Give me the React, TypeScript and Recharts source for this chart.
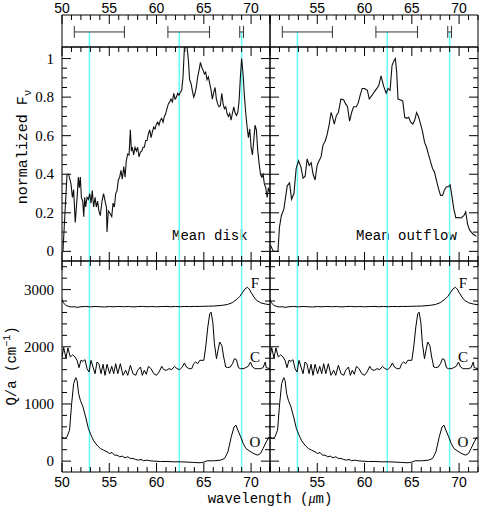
import React from 'react'
import { ComposedChart, Line, XAxis, YAxis, ReferenceLine, Scatter, ErrorBar } from 'recharts'

// ── axes ──────────────────────────────────────────────────────────────────────
const X_DOMAIN: [number, number] = [50, 72]
const X_TICKS = [50, 51, 52, 53, 54, 55, 56, 57, 58, 59, 60, 61, 62, 63, 64, 65, 66, 67, 68, 69, 70, 71, 72]
const X_MAJOR = [50, 55, 60, 65, 70]
const X_LABELS_RIGHT = [55, 60, 65, 70]

const FLUX_DOMAIN: [number, number] = [-0.05, 1.06]
const FLUX_TICKS = [0, 0.05, 0.1, 0.15, 0.2, 0.25, 0.3, 0.35, 0.4, 0.45, 0.5, 0.55, 0.6, 0.65, 0.7, 0.75, 0.8, 0.85, 0.9, 0.95, 1]
const FLUX_LABELS = [0, 0.2, 0.4, 0.6, 0.8, 1]

const Q_DOMAIN: [number, number] = [-190, 3500]
const Q_TICKS = [0, 200, 400, 600, 800, 1000, 1200, 1400, 1600, 1800, 2000, 2200, 2400, 2600, 2800, 3000, 3200, 3400]
const Q_LABELS = [0, 1000, 2000, 3000]

// ── marks ─────────────────────────────────────────────────────────────────────
const cyanLines = [52.9, 62.4, 69.0]
const resolution = [
  { lo: 51.3, hi: 56.6 },
  { lo: 61.2, hi: 65.6 },
  { lo: 68.8, hi: 69.2 },
]

// [wavelength, normalized F_nu]
const meanDisk: [number, number][] = [
  [50.1, 0.0], [50.53, 0.4], [50.7, 0.4], [50.95, 0.35], [51.1, 0.28], [51.23, 0.32], [51.4, 0.15],
  [51.6, 0.28], [51.73, 0.385], [51.83, 0.33], [51.94, 0.385], [52.05, 0.28], [52.19, 0.26], [52.3, 0.18],
  [52.4, 0.28], [52.5, 0.23], [52.65, 0.28], [52.79, 0.27], [52.93, 0.3], [53.07, 0.25], [53.2, 0.315],
  [53.35, 0.23], [53.5, 0.28], [53.63, 0.23], [53.77, 0.26], [53.9, 0.21], [54.05, 0.185], [54.23, 0.26],
  [54.4, 0.3], [54.6, 0.25], [54.7, 0.23], [54.76, 0.1], [54.9, 0.21], [55.04, 0.2], [55.26, 0.18],
  [55.4, 0.25], [55.54, 0.23], [55.68, 0.3], [55.82, 0.315], [55.96, 0.37], [56.1, 0.385], [56.24, 0.42],
  [56.38, 0.375], [56.53, 0.44], [56.67, 0.385], [56.8, 0.47], [56.95, 0.505], [57.09, 0.5], [57.23, 0.63],
  [57.34, 0.52], [57.44, 0.54], [57.58, 0.5], [57.72, 0.54], [57.87, 0.52], [58.0, 0.54], [58.15, 0.49],
  [58.29, 0.515], [58.43, 0.52], [58.57, 0.54], [58.71, 0.54], [58.85, 0.575], [59.0, 0.575], [59.14, 0.61],
  [59.28, 0.63], [59.42, 0.59], [59.56, 0.62], [59.7, 0.645], [59.84, 0.635], [59.98, 0.66], [60.12, 0.67],
  [60.26, 0.655], [60.4, 0.68], [60.55, 0.69], [60.69, 0.67], [60.83, 0.7], [60.97, 0.715], [61.1, 0.74],
  [61.25, 0.765], [61.4, 0.775], [61.53, 0.79], [61.68, 0.775], [61.82, 0.82], [61.96, 0.79], [62.1, 0.8],
  [62.24, 0.82], [62.38, 0.81], [62.52, 0.825], [62.66, 0.835], [62.8, 0.905], [62.95, 1.06], [63.09, 1.15],
  [63.23, 1.06], [63.37, 0.99], [63.5, 0.89], [63.65, 0.87], [63.8, 0.83], [63.93, 0.8], [64.07, 0.82],
  [64.2, 0.85], [64.35, 0.905], [64.5, 0.94], [64.64, 0.98], [64.78, 0.955], [64.92, 0.94], [65.06, 0.92],
  [65.2, 0.93], [65.34, 0.89], [65.48, 0.905], [65.63, 0.87], [65.77, 0.835], [65.9, 0.79], [66.05, 0.825],
  [66.19, 0.85], [66.33, 0.79], [66.47, 0.765], [66.6, 0.75], [66.75, 0.755], [66.9, 0.82], [67.04, 0.765],
  [67.18, 0.74], [67.32, 0.75], [67.46, 0.715], [67.6, 0.7], [67.74, 0.715], [67.88, 0.68], [68.02, 0.715],
  [68.17, 0.75], [68.3, 0.72], [68.45, 0.705], [68.59, 0.72], [68.73, 0.78], [68.87, 0.905], [69.0, 1.0],
  [69.15, 0.92], [69.3, 0.8], [69.44, 0.715], [69.58, 0.645], [69.72, 0.59], [69.86, 0.635], [70.0, 0.54],
  [70.14, 0.5], [70.28, 0.575], [70.42, 0.655], [70.56, 0.63], [70.7, 0.525], [70.85, 0.455], [71.0, 0.4],
  [71.13, 0.385], [71.27, 0.4], [71.4, 0.35], [71.55, 0.33], [71.7, 0.28], [71.83, 0.33], [72.0, 0.3],
]

const meanOutflow: [number, number][] = [
  [50.07, 0.03], [50.35, 0.0], [50.84, 0.0], [51.0, 0.125], [51.2, 0.185], [51.47, 0.22], [51.82, 0.34],
  [52.07, 0.355], [52.28, 0.27], [52.53, 0.3], [52.77, 0.43], [53.02, 0.47], [53.26, 0.44], [53.5, 0.38],
  [53.72, 0.39], [53.93, 0.48], [54.14, 0.445], [54.35, 0.46], [54.56, 0.4], [54.77, 0.37], [54.98, 0.445],
  [55.19, 0.47], [55.4, 0.49], [55.6, 0.55], [55.86, 0.575], [56.04, 0.605], [56.25, 0.655], [56.46, 0.72],
  [56.6, 0.7], [56.8, 0.66], [57.02, 0.705], [57.23, 0.72], [57.5, 0.79], [57.8, 0.785], [58.0, 0.765],
  [58.2, 0.75], [58.42, 0.675], [58.63, 0.72], [58.84, 0.75], [59.12, 0.75], [59.33, 0.77], [59.54, 0.81],
  [59.75, 0.845], [60.0, 0.845], [60.3, 0.835], [60.5, 0.79], [60.8, 0.81], [61.0, 0.825], [61.3, 0.845],
  [61.5, 0.86], [61.75, 0.91], [62.0, 0.86], [62.28, 0.82], [62.49, 0.845], [62.7, 0.835], [62.91, 0.965],
  [63.12, 0.99], [63.26, 1.0], [63.4, 0.93], [63.54, 0.79], [63.82, 0.785], [64.04, 0.78], [64.25, 0.695],
  [64.46, 0.69], [64.67, 0.695], [64.88, 0.67], [65.1, 0.66], [65.3, 0.68], [65.5, 0.72], [65.7, 0.7],
  [65.93, 0.66], [66.14, 0.62], [66.35, 0.565], [66.56, 0.54], [66.77, 0.5], [66.98, 0.465], [67.19, 0.43],
  [67.4, 0.41], [67.6, 0.37], [67.82, 0.325], [68.04, 0.29], [68.25, 0.29], [68.46, 0.32], [68.67, 0.335],
  [68.88, 0.335], [69.05, 0.345], [69.23, 0.29], [69.44, 0.22], [69.65, 0.175], [69.93, 0.175], [70.2, 0.173],
  [70.5, 0.185], [70.7, 0.205], [70.9, 0.14], [71.12, 0.11], [71.47, 0.09], [71.82, 0.078],
]

// [wavelength, Q/a in cm^-1]
const qaF: [number, number][] = [
  [50.0, 2830], [50.15, 2770], [50.4, 2725], [50.7, 2705], [51.0, 2695], [51.3, 2700], [51.6, 2690],
  [52.0, 2700], [52.5, 2705], [53.0, 2698], [53.5, 2705], [54.0, 2700], [54.5, 2696], [55.0, 2703],
  [55.5, 2699], [56.0, 2705], [56.5, 2700], [57.0, 2704], [57.5, 2698], [58.0, 2702], [58.5, 2706],
  [59.0, 2700], [59.5, 2704], [60.0, 2699], [60.5, 2703], [61.0, 2706], [61.5, 2700], [62.0, 2705],
  [62.5, 2700], [63.0, 2705], [63.5, 2702], [64.0, 2706], [64.5, 2705], [65.0, 2708], [65.5, 2710],
  [66.0, 2712], [66.5, 2718], [67.0, 2726], [67.5, 2740], [68.0, 2770], [68.5, 2830], [68.8, 2880],
  [69.1, 2950], [69.35, 3010], [69.6, 3040], [69.8, 3010], [70.0, 2950], [70.3, 2870], [70.6, 2810],
  [71.0, 2770], [71.5, 2748], [72.0, 2735],
]

const qaC: [number, number][] = [
  [50.0, 1821], [50.18, 1984], [50.42, 1803], [50.63, 1978], [50.88, 1821], [51.13, 1861], [51.38, 1821],
  [51.59, 1763], [51.8, 1635], [52.0, 1763], [52.22, 1745], [52.43, 1774], [52.65, 1617], [52.86, 1559],
  [53.07, 1763], [53.28, 1646], [53.5, 1530], [53.7, 1733], [53.9, 1704], [54.13, 1530], [54.34, 1693],
  [54.55, 1501], [54.76, 1693], [55.04, 1530], [55.26, 1658], [55.47, 1530], [55.68, 1704], [55.9, 1530],
  [56.17, 1704], [56.45, 1501], [56.74, 1588], [56.95, 1501], [57.23, 1675], [57.51, 1530], [57.8, 1501],
  [58.0, 1588], [58.3, 1646], [58.5, 1501], [58.7, 1588], [58.92, 1518], [59.14, 1658], [59.42, 1617],
  [59.7, 1530], [60.0, 1501], [60.27, 1559], [60.55, 1658], [60.76, 1600], [61.04, 1588], [61.32, 1617],
  [61.6, 1600], [61.9, 1658], [62.17, 1617], [62.45, 1600], [62.73, 1646], [62.95, 1716], [63.16, 1646],
  [63.44, 1617], [63.72, 1617], [63.93, 1704], [64.14, 1733], [64.36, 1704], [64.57, 1763], [64.8, 1763],
  [65.0, 1763], [65.2, 1995], [65.42, 2344], [65.63, 2577], [65.77, 2606], [65.95, 2432], [66.12, 2053],
  [66.34, 1792], [66.5, 1937], [66.68, 2083], [66.9, 2024], [67.1, 1821], [67.32, 1646], [67.53, 1635],
  [67.8, 1646], [68.03, 1704], [68.24, 1792], [68.45, 1774], [68.66, 1635], [68.87, 1617], [69.15, 1617],
  [69.43, 1635], [69.7, 1658], [69.93, 1733], [70.15, 1646], [70.43, 1617], [70.7, 1617], [71.0, 1617],
  [71.27, 1635], [71.5, 1733], [71.6, 1635], [72.0, 1617],
]

const qaO: [number, number][] = [
  [50.0, 425], [50.25, 396], [50.53, 425], [50.8, 541], [51.02, 1006], [51.23, 1355], [51.45, 1460],
  [51.59, 1413], [51.76, 1181], [51.94, 1065], [52.22, 948], [52.5, 774], [52.79, 570], [53.07, 454],
  [53.35, 355], [53.7, 279], [54.05, 221], [54.4, 192], [54.76, 163], [55.04, 134], [55.3, 151],
  [55.54, 105], [55.82, 105], [56.1, 76], [56.38, 87], [56.67, 58], [56.95, 76], [57.23, 47], [57.51, 47],
  [57.8, 29], [58.08, 17], [58.36, 29], [58.64, 6], [59.0, 17], [59.35, 6], [59.7, 0], [60.4, -6],
  [61.1, -6], [61.8, -12], [62.52, -12], [63.23, -17], [63.93, -23], [64.6, -29], [65.0, -17], [65.35, 6],
  [66.05, 6], [66.77, 17], [67.2, 47], [67.55, 163], [67.9, 425], [68.2, 599], [68.4, 628], [68.6, 541],
  [68.9, 425], [69.17, 308], [69.45, 221], [69.8, 180], [70.15, 145], [70.42, 122], [70.7, 105],
  [71.0, 134], [71.27, 221], [71.55, 320], [71.9, 425],
]

const pts = (a: [number, number][]) => a.map(([x, y]) => ({ x, y }))

// ── styling ───────────────────────────────────────────────────────────────────
const INK = '#000'
const CYAN = '#66ffff'
const SANS = '"Liberation Sans", Arial, sans-serif'
const SERIF = '"Liberation Serif", "Times New Roman", serif'
const MONO = '"Liberation Mono", "Courier New", monospace'

// plot edges in page pixels, and the box each chart is drawn in
const COLS = { left: [62, 270], right: [270, 478] }
const ROWS = { strip: [15, 47], mid: [47, 261], low: [261, 472] }
const COL_BOX = { left: [0, 272], right: [268, 212] }
const ROW_BOX = { strip: [0, 49], mid: [45, 218], low: [259, 255] }
const PLOT_W = 208

// tick labels only; the tick marks themselves are reference segments (see tickMarks)
function XLabel(props: any) {
  const { x, y, payload, labels = [], above = false } = props
  const v = payload.value
  if (!labels.includes(v)) return <g />
  return (
    <text x={x} y={above ? y - 2 : y + 15} textAnchor="middle" fontFamily={SANS} fontSize={14} fill={INK}>
      {v}
    </text>
  )
}

function YLabel(props: any) {
  const { x, y, payload, labels = [] } = props
  const v = payload.value
  if (!labels.includes(v)) return <g />
  return (
    <text x={x - 8} y={y} dy="0.34em" textAnchor="end" fontFamily={SERIF} fontSize={15} fill={INK}>
      {v}
    </text>
  )
}

// axes are 1px thick (a zero-size axis is not drawn), the panel margins make up for it
function frameAxes(o: { yDomain: [number, number]; yTicks?: number[]; yLabels?: number[]; bottomLabels?: number[]; topLabels?: number[] }) {
  const xCommon = {
    type: 'number' as const,
    dataKey: 'x',
    domain: X_DOMAIN,
    allowDataOverflow: true,
    ticks: X_TICKS,
    interval: 0,
    height: 1,
    tickSize: 0,
    tickMargin: 0,
    tickLine: false,
    axisLine: { stroke: INK, strokeWidth: 1 },
  }
  const yCommon = {
    type: 'number' as const,
    domain: o.yDomain,
    allowDataOverflow: true,
    ticks: o.yTicks ?? [],
    interval: 0,
    width: 1,
    tickSize: 0,
    tickMargin: 0,
    tickLine: false,
    axisLine: { stroke: INK, strokeWidth: 1 },
  }
  return [
    <XAxis key="xb" xAxisId="b" {...xCommon} tick={o.bottomLabels ? <XLabel labels={o.bottomLabels} /> : false} />,
    <XAxis key="xt" xAxisId="t" orientation="top" {...xCommon} tick={o.topLabels ? <XLabel labels={o.topLabels} above /> : false} />,
    <YAxis key="yl" yAxisId="l" {...yCommon} tick={o.yLabels ? <YLabel labels={o.yLabels} /> : false} />,
    <YAxis key="yr" yAxisId="r" orientation="right" {...yCommon} tick={false} />,
  ]
}

// inward ticks: major 9px, minor 5px, converted to data units of the panel
function tickMarks(o: {
  yDomain: [number, number]
  plotH: number
  yTicks?: number[]
  yMajors?: number[]
  bottom: boolean
  top: boolean
}) {
  const [y0, y1] = o.yDomain
  const yPerPx = (y1 - y0) / o.plotH
  const xPerPx = (X_DOMAIN[1] - X_DOMAIN[0]) / PLOT_W
  const seg = (k: string, ax: number, ay: number, bx: number, by: number) => (
    <ReferenceLine
      key={k}
      xAxisId="b"
      yAxisId="l"
      segment={[
        { x: ax, y: ay },
        { x: bx, y: by },
      ]}
      stroke={INK}
      strokeWidth={1}
      ifOverflow="visible"
    />
  )
  const out: React.ReactNode[] = []
  X_TICKS.forEach((v) => {
    const len = (X_MAJOR.includes(v) ? 9 : 5) * yPerPx
    if (o.bottom) out.push(seg(`xb${v}`, v, y0, v, y0 + len))
    if (o.top) out.push(seg(`xt${v}`, v, y1, v, y1 - len))
  })
  ;(o.yTicks ?? []).forEach((v) => {
    const len = ((o.yMajors ?? []).includes(v) ? 9 : 5) * xPerPx
    out.push(seg(`yl${v}`, X_DOMAIN[0], v, X_DOMAIN[0] + len, v))
    out.push(seg(`yr${v}`, X_DOMAIN[1], v, X_DOMAIN[1] - len, v))
  })
  return out
}

function Panel({ side, row, children }: { side: 'left' | 'right'; row: 'strip' | 'mid' | 'low'; children: React.ReactNode }) {
  const [cx0, cx1] = COLS[side]
  const [ry0, ry1] = ROWS[row]
  const [bx, bw] = COL_BOX[side]
  const [by, bh] = ROW_BOX[row]
  return (
    <div style={{ position: 'absolute', left: bx, top: by, width: bw, height: bh }}>
      <ComposedChart
        width={bw}
        height={bh}
        margin={{ left: cx0 - bx - 1, right: bx + bw - cx1 - 1, top: ry0 - by - 1, bottom: by + bh - ry1 - 1 }}
      >
        {children}
      </ComposedChart>
    </div>
  )
}

function cyan() {
  return cyanLines.map((c) => (
    <ReferenceLine key={`c${c}`} xAxisId="b" yAxisId="l" x={c} stroke={CYAN} strokeWidth={1.5} />
  ))
}

function stripMarks() {
  const bars = resolution.map((r) => ({ x: (r.lo + r.hi) / 2, y: 0.47, err: (r.hi - r.lo) / 2 }))
  return [
    ...cyanLines.map((c) => (
      <ReferenceLine
        key={`s${c}`}
        xAxisId="b"
        yAxisId="l"
        segment={[
          { x: c, y: 0.47 },
          { x: c, y: 0 },
        ]}
        stroke={CYAN}
        strokeWidth={1.5}
      />
    )),
    <Scatter key="res" xAxisId="b" yAxisId="l" data={bars} dataKey="y" isAnimationActive={false} shape={() => <g />}>
      <ErrorBar dataKey="err" direction="x" width={6} stroke="#333" strokeWidth={1} />
    </Scatter>,
  ]
}

function qaLines() {
  return [
    <Line key="F" xAxisId="b" yAxisId="l" data={pts(qaF)} dataKey="y" type="linear" stroke={INK} strokeWidth={1} dot={false} isAnimationActive={false} />,
    <Line key="C" xAxisId="b" yAxisId="l" data={pts(qaC)} dataKey="y" type="linear" stroke={INK} strokeWidth={1} dot={false} isAnimationActive={false} />,
    <Line key="O" xAxisId="b" yAxisId="l" data={pts(qaO)} dataKey="y" type="linear" stroke={INK} strokeWidth={1} dot={false} isAnimationActive={false} />,
  ]
}

const STRIP_Y: [number, number] = [0, 1]
const fluxTicks = { yDomain: FLUX_DOMAIN, plotH: ROWS.mid[1] - ROWS.mid[0], yTicks: FLUX_TICKS, yMajors: FLUX_LABELS, bottom: true, top: true }
const qTicks = { yDomain: Q_DOMAIN, plotH: ROWS.low[1] - ROWS.low[0], yTicks: Q_TICKS, yMajors: Q_LABELS, bottom: true, top: true }
const stripTicks = { yDomain: STRIP_Y, plotH: ROWS.strip[1] - ROWS.strip[0], bottom: false, top: true }

export default function App() {
  const txt = { fontFamily: MONO, fill: INK }
  return (
    <div style={{ position: 'absolute', left: 0, top: 0, width: 480, height: 514, background: '#fff' }}>
      <svg width={480} height={514} style={{ position: 'absolute', left: 0, top: 0, pointerEvents: 'none' }}>
        <text transform="translate(27,147) rotate(-90)" textAnchor="middle" fontSize={15} {...txt}>
          normalized F<tspan dy={4} fontSize={11}>ν</tspan>
        </text>
        <text transform="translate(16,366) rotate(-90)" textAnchor="middle" fontSize={14} {...txt}>
          Q/a (cm<tspan dy={-6} fontSize={10}>−1</tspan>
          <tspan dy={6}>)</tspan>
        </text>
        <text x={270} y={503} textAnchor="middle" fontSize={14} {...txt}>
          wavelength (<tspan fontFamily={SERIF} fontStyle="italic">μ</tspan>m)
        </text>
        <text x={172} y={240} fontSize={14} {...txt}>Mean disk</text>
        <text x={356} y={240} fontSize={14} {...txt}>Mean outflow</text>
        {[255, 463].map((cx) => (
          <g key={cx} fontFamily={SERIF} fontSize={15} fill={INK} textAnchor="middle">
            <text x={cx} y={288}>F</text>
            <text x={cx} y={362}>C</text>
            <text x={cx} y={447}>O</text>
          </g>
        ))}
      </svg>

      {/* resolution strip */}
      <Panel side="left" row="strip">
        {frameAxes({ yDomain: STRIP_Y, topLabels: X_MAJOR })}
        {tickMarks(stripTicks)}
        {stripMarks()}
      </Panel>
      <Panel side="right" row="strip">
        {frameAxes({ yDomain: STRIP_Y, topLabels: X_LABELS_RIGHT })}
        {tickMarks(stripTicks)}
        {stripMarks()}
      </Panel>

      {/* normalized spectra */}
      <Panel side="left" row="mid">
        {frameAxes({ yDomain: FLUX_DOMAIN, yTicks: FLUX_TICKS, yLabels: FLUX_LABELS })}
        {cyan()}
        {tickMarks(fluxTicks)}
        <Line xAxisId="b" yAxisId="l" data={pts(meanDisk)} dataKey="y" type="linear" stroke="#111" strokeWidth={1.1} dot={false} isAnimationActive={false} />
      </Panel>
      <Panel side="right" row="mid">
        {frameAxes({ yDomain: FLUX_DOMAIN, yTicks: FLUX_TICKS })}
        {cyan()}
        {tickMarks(fluxTicks)}
        <Line xAxisId="b" yAxisId="l" data={pts(meanOutflow)} dataKey="y" type="linear" stroke="#111" strokeWidth={1.1} dot={false} isAnimationActive={false} />
      </Panel>

      {/* Q/a */}
      <Panel side="left" row="low">
        {frameAxes({ yDomain: Q_DOMAIN, yTicks: Q_TICKS, yLabels: Q_LABELS, bottomLabels: X_MAJOR })}
        {cyan()}
        {tickMarks(qTicks)}
        {qaLines()}
      </Panel>
      <Panel side="right" row="low">
        {frameAxes({ yDomain: Q_DOMAIN, yTicks: Q_TICKS, bottomLabels: X_LABELS_RIGHT })}
        {cyan()}
        {tickMarks(qTicks)}
        {qaLines()}
      </Panel>
    </div>
  )
}
